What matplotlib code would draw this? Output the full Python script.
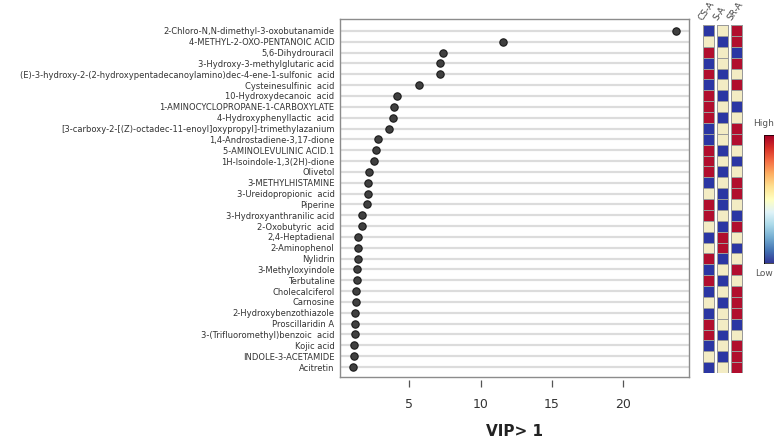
import matplotlib
matplotlib.use("Agg")
import matplotlib.pyplot as plt
import numpy as np
from matplotlib.cm import ScalarMappable
from matplotlib.colors import Normalize, ListedColormap

# metabolites with VIP > 1, top to bottom
METABOLITES = [
    "2-Chloro-N,N-dimethyl-3-oxobutanamide",
    "4-METHYL-2-OXO-PENTANOIC ACID",
    "5,6-Dihydrouracil",
    "3-Hydroxy-3-methylglutaric acid",
    "(E)-3-hydroxy-2-(2-hydroxypentadecanoylamino)dec-4-ene-1-sulfonic  acid",
    "Cysteinesulfinic  acid",
    "10-Hydroxydecanoic  acid",
    "1-AMINOCYCLOPROPANE-1-CARBOXYLATE",
    "4-Hydroxyphenyllactic  acid",
    "[3-carboxy-2-[(Z)-octadec-11-enoyl]oxypropyl]-trimethylazanium",
    "1,4-Androstadiene-3,17-dione",
    "5-AMINOLEVULINIC ACID.1",
    "1H-Isoindole-1,3(2H)-dione",
    "Olivetol",
    "3-METHYLHISTAMINE",
    "3-Ureidopropionic  acid",
    "Piperine",
    "3-Hydroxyanthranilic acid",
    "2-Oxobutyric  acid",
    "2,4-Heptadienal",
    "2-Aminophenol",
    "Nylidrin",
    "3-Methyloxyindole",
    "Terbutaline",
    "Cholecalciferol",
    "Carnosine",
    "2-Hydroxybenzothiazole",
    "Proscillaridin A",
    "3-(Trifluoromethyl)benzoic  acid",
    "Kojic acid",
    "INDOLE-3-ACETAMIDE",
    "Acitretin",
]
VIP = [23.7, 11.55, 7.38, 7.15, 7.15, 5.65, 4.11, 3.90, 3.83, 3.60, 2.78,
       2.66, 2.52, 2.17, 2.13, 2.08, 2.01, 1.70, 1.66, 1.43, 1.43, 1.38,
       1.36, 1.31, 1.28, 1.26, 1.22, 1.22, 1.17, 1.15, 1.12, 1.08]

# relative level per group: -1 low, 0 mid, 1 high
GROUPS = ["CS-A", "S-A", "SR-A"]
CS_A = [-1, 0, 1, -1, 1, -1, 1, 1, 1, -1, -1, 1, 1, 1, -1, 0,
        1, 1, 0, -1, 0, 1, -1, 1, -1, 0, -1, 1, 1, -1, 0, -1]
S_A = [0, -1, 0, 0, -1, 0, -1, 0, -1, 0, 0, -1, 0, -1, 0, -1,
       -1, 0, -1, 1, 1, -1, 0, -1, 0, -1, 0, 0, -1, 0, -1, 0]
SR_A = [1, 1, -1, 1, 0, 1, 0, -1, 0, 1, 1, 0, -1, 0, 1, 1,
        0, -1, 1, 0, -1, 0, 1, 0, 1, 1, 1, -1, 0, 1, 1, 1]

W, H = 774, 443
fig = plt.figure(figsize=(W / 100, H / 100), dpi=100)

# dot plot
ax = fig.add_axes([340 / W, 1 - 377 / H, 349 / W, 358 / H])
rows = np.arange(len(METABOLITES))
for r in rows:
    ax.axhline(r, color="#dcdcdc", lw=1.6, zorder=1)
ax.scatter(VIP, rows, s=28, color="#404040", edgecolors="#1a1a1a",
           linewidths=0.8, zorder=3)
ax.set_ylim(len(METABOLITES) - 0.08, -1.1)
ax.set_xlim(0.14, 24.6)
ax.set_yticks(rows)
ax.set_yticklabels(METABOLITES, fontsize=6, color="#333333")
ax.tick_params(axis="y", length=0, pad=4)
ax.tick_params(axis="x", bottom=False, labelbottom=False)
for s in ax.spines.values():
    s.set_color("#8c8c8c")
    s.set_linewidth(1.0)

# R-style x axis, detached below the frame
sec = ax.secondary_xaxis(-3 / 358)
sec.set_xticks([5, 10, 15, 20])
sec.spines["bottom"].set_visible(False)
sec.tick_params(axis="x", length=5, width=0.9, color="#555555",
                labelsize=9, labelcolor="#333333", pad=8)
sec.set_xlabel("VIP> 1", fontsize=11, fontweight="bold", color="#222222",
               labelpad=9)

# heatmap columns (three levels: low / mid / high)
cell_cmap = ListedColormap(["#2b36a3", "#f3ecc4", "#b10e2e"])
hax = fig.add_axes([702 / W, 1 - 373 / H, 41 / W, 348 / H])
for i, col in enumerate([CS_A, S_A, SR_A]):
    vals = np.array(col, dtype=float).reshape(-1, 1)
    xe = [i * 1.25, i * 1.25 + 1]
    ye = np.arange(len(col) + 1)
    hax.pcolormesh(xe, ye, vals, cmap=cell_cmap, vmin=-1.5, vmax=1.5,
                   edgecolors="#9a9a9a", linewidth=0.6)
    hax.text(i * 1.25 + 0.15, -0.25, GROUPS[i], rotation=55, fontsize=6.5,
             color="#444444", ha="left", va="bottom",
             rotation_mode="anchor")
hax.set_xlim(-0.05, 3.55)
hax.set_ylim(len(CS_A), 0)
hax.axis("off")

# colour key at the right edge
cax = fig.add_axes([764 / W, 1 - 263 / H, 14 / W, 128 / H])
cb = fig.colorbar(ScalarMappable(Normalize(-1, 1), plt.get_cmap("RdYlBu_r")),
                  cax=cax)
cb.set_ticks([])
cb.outline.set_linewidth(0.5)
fig.text(753 / W, 1 - 124 / H, "High", fontsize=6.5, color="#555555",
         va="center")
fig.text(755 / W, 1 - 273 / H, "Low", fontsize=6.5, color="#555555",
         va="center")

fig.savefig("out.png", dpi=100)
